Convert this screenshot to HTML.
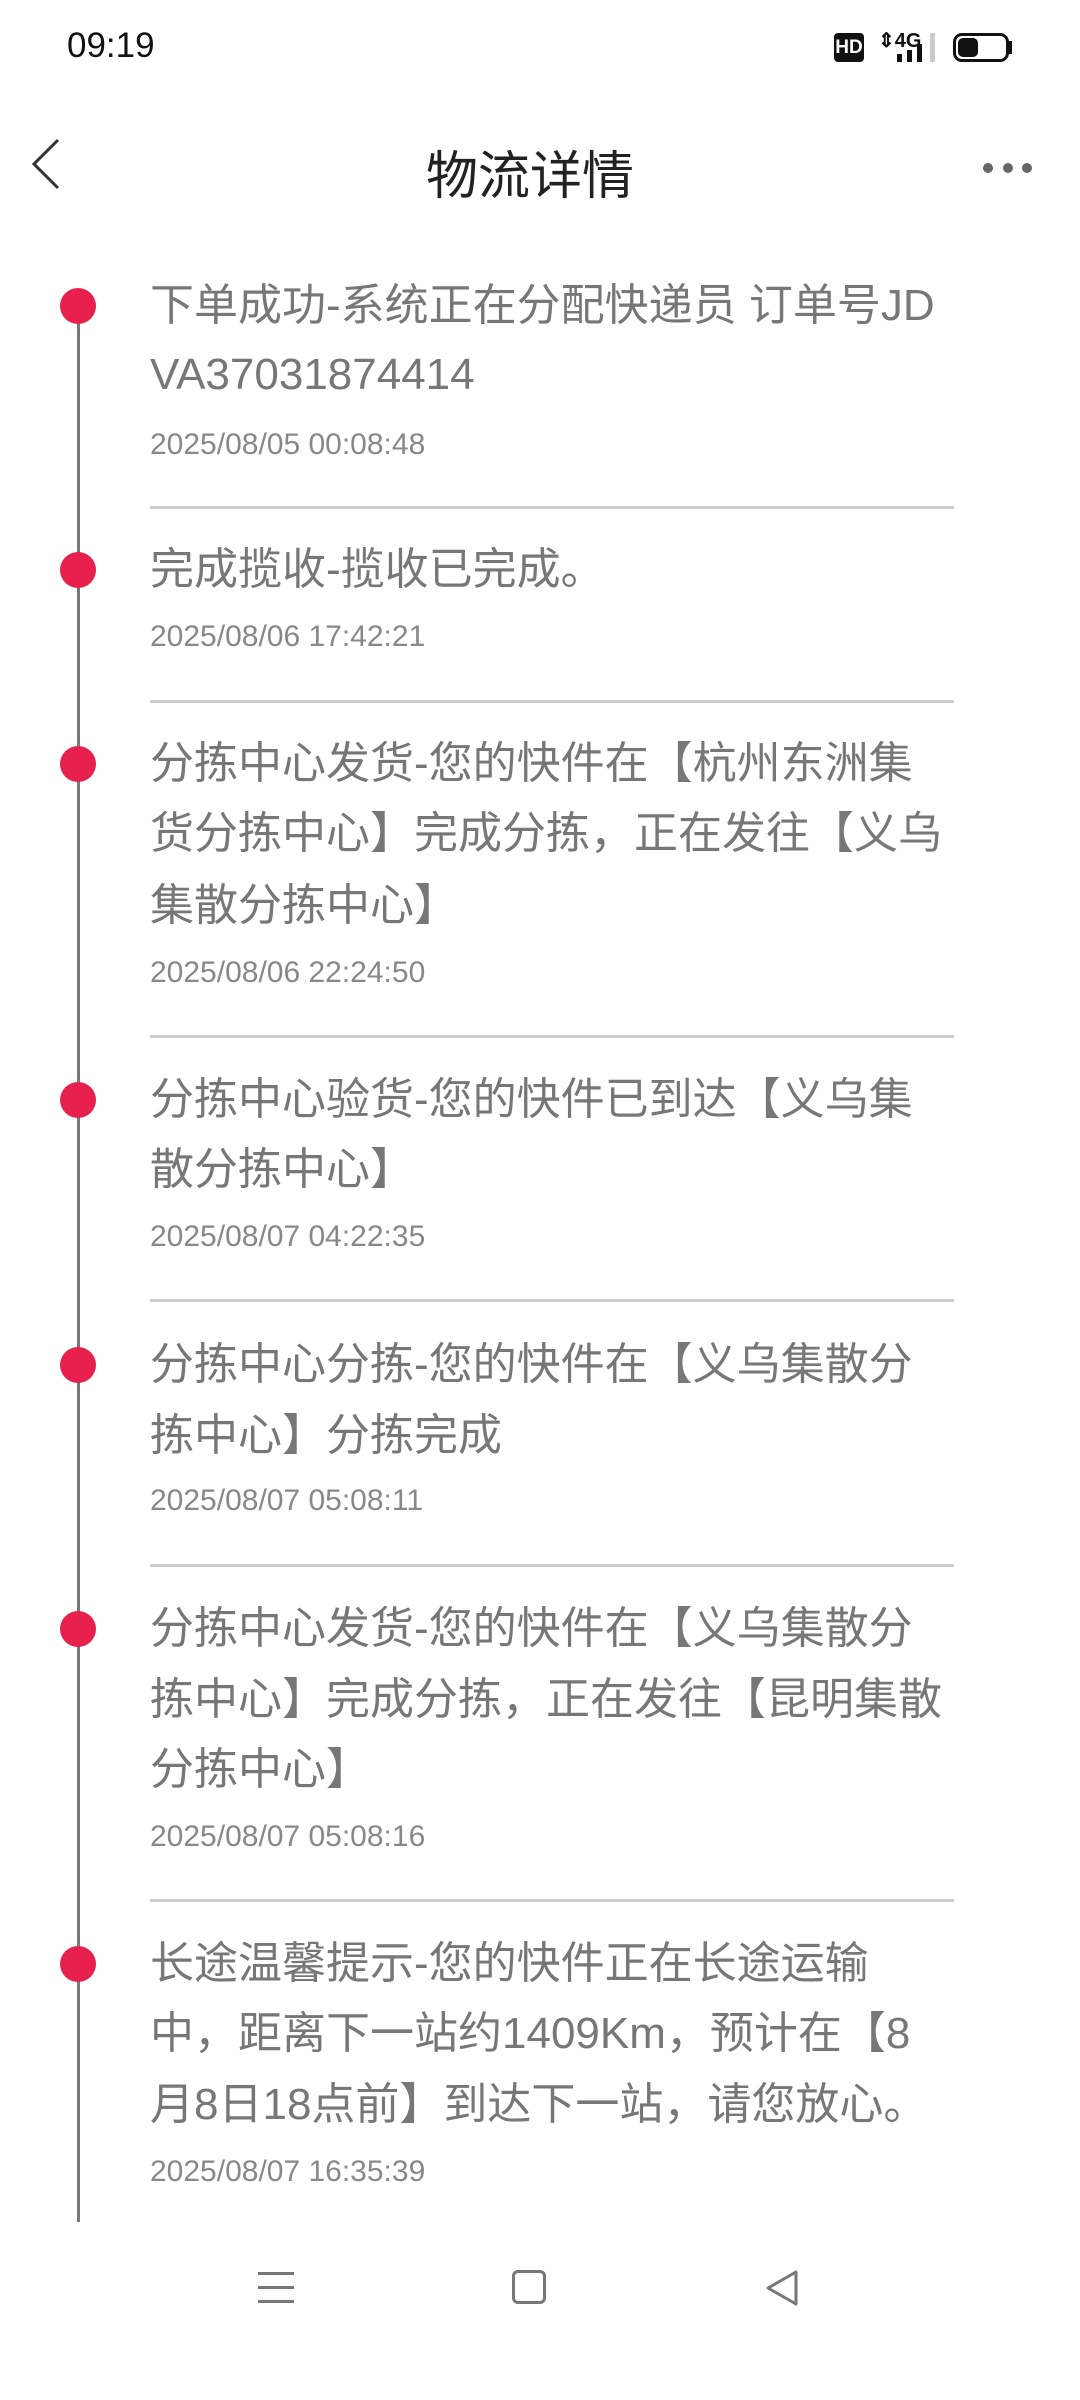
<!DOCTYPE html>
<html><head><meta charset="utf-8"><style>
body{margin:0;width:1080px;height:2400px;background:#fff;position:relative;overflow:hidden;font-family:"Liberation Sans","Noto Sans CJK SC",sans-serif;}
.a{position:absolute;white-space:nowrap}
.t{left:150px;font-size:44px;line-height:70px;height:70px;color:#777}
.d{left:150px;font-size:30px;line-height:40px;color:#888}
.hr{position:absolute;left:150px;width:804px;height:3px;background:#ccc}
.dot{position:absolute;left:60px;width:36px;height:36px;border-radius:50%;background:#e8204e}
</style></head><body>
<div class="a" style="left:67px;top:26px;font-size:35px;color:#111">09:19</div>
<div class="a" style="left:834px;top:33px;width:30px;height:29px;background:#111;border-radius:4px;color:#fff;font-size:19px;font-weight:bold;line-height:29px;text-align:center">HD</div>
<div class="a" style="left:878px;top:28px;font-size:20px;font-weight:bold;color:#111">⇕4G</div>
<div class="a" style="left:897px;top:54px;width:5px;height:8px;background:#111"></div>
<div class="a" style="left:907px;top:50px;width:5px;height:12px;background:#111"></div>
<div class="a" style="left:917px;top:44px;width:5px;height:18px;background:#111"></div>
<div class="a" style="left:930px;top:33px;width:5px;height:29px;background:#ccc"></div>
<div class="a" style="left:953px;top:33px;width:50px;height:23px;border:3px solid #111;border-radius:9px"></div>
<div class="a" style="left:958px;top:38px;width:20px;height:19px;background:#111;border-radius:5px"></div>
<div class="a" style="left:1008px;top:41px;width:4px;height:13px;background:#111"></div>
<svg class="a" style="left:28px;top:138px" width="36" height="52"><polyline points="30,2 6,26 30,50" fill="none" stroke="#333" stroke-width="3"/></svg>
<div class="a" style="left:0;width:1060px;text-align:center;top:134px;font-size:52px;color:#222">物流详情</div>
<div class="a" style="left:983px;top:163px;width:10px;height:10px;border-radius:50%;background:#666"></div>
<div class="a" style="left:1003px;top:163px;width:10px;height:10px;border-radius:50%;background:#666"></div>
<div class="a" style="left:1022px;top:163px;width:10px;height:10px;border-radius:50%;background:#666"></div>
<div class="a" style="left:77px;top:306px;width:3px;height:1916px;background:#777"></div>

<div class="dot" style="top:288px"></div>
<div class="a t" style="top:271px">下单成功-系统正在分配快递员 订单号JD</div>
<div class="a t" style="top:340px">VA37031874414</div>
<div class="a d" style="top:425px">2025/08/05 00:08:48</div>
<div class="hr" style="top:506px"></div>

<div class="dot" style="top:552px"></div>
<div class="a t" style="top:535px">完成揽收-揽收已完成。</div>
<div class="a d" style="top:617px">2025/08/06 17:42:21</div>
<div class="hr" style="top:700px"></div>

<div class="dot" style="top:746px"></div>
<div class="a t" style="top:729px">分拣中心发货-您的快件在【杭州东洲集</div>
<div class="a t" style="top:799px">货分拣中心】完成分拣，正在发往【义乌</div>
<div class="a t" style="top:871px">集散分拣中心】</div>
<div class="a d" style="top:953px">2025/08/06 22:24:50</div>
<div class="hr" style="top:1035px"></div>

<div class="dot" style="top:1082px"></div>
<div class="a t" style="top:1065px">分拣中心验货-您的快件已到达【义乌集</div>
<div class="a t" style="top:1135px">散分拣中心】</div>
<div class="a d" style="top:1217px">2025/08/07 04:22:35</div>
<div class="hr" style="top:1299px"></div>

<div class="dot" style="top:1347px"></div>
<div class="a t" style="top:1330px">分拣中心分拣-您的快件在【义乌集散分</div>
<div class="a t" style="top:1401px">拣中心】分拣完成</div>
<div class="a d" style="top:1481px">2025/08/07 05:08:11</div>
<div class="hr" style="top:1564px"></div>

<div class="dot" style="top:1611px"></div>
<div class="a t" style="top:1594px">分拣中心发货-您的快件在【义乌集散分</div>
<div class="a t" style="top:1665px">拣中心】完成分拣，正在发往【昆明集散</div>
<div class="a t" style="top:1735px">分拣中心】</div>
<div class="a d" style="top:1817px">2025/08/07 05:08:16</div>
<div class="hr" style="top:1899px"></div>

<div class="dot" style="top:1946px"></div>
<div class="a t" style="top:1929px">长途温馨提示-您的快件正在长途运输</div>
<div class="a t" style="top:1999px">中，距离下一站约1409Km，预计在【8</div>
<div class="a t" style="top:2070px">月8日18点前】到达下一站，请您放心。</div>
<div class="a d" style="top:2152px">2025/08/07 16:35:39</div>

<div class="a" style="left:258px;top:2272px;width:36px;height:3px;background:#777"></div>
<div class="a" style="left:258px;top:2286px;width:36px;height:3px;background:#777"></div>
<div class="a" style="left:258px;top:2300px;width:36px;height:3px;background:#777"></div>
<div class="a" style="left:512px;top:2270px;width:28px;height:28px;border:3px solid #777;border-radius:6px"></div>
<svg class="a" style="left:762px;top:2268px" width="40" height="40"><polygon points="34,4 6,20 34,36" fill="none" stroke="#777" stroke-width="3" stroke-linejoin="round"/></svg>
</body></html>
